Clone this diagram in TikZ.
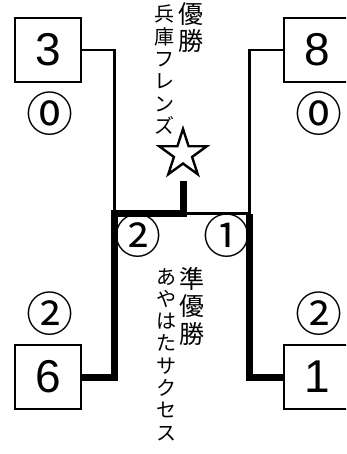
\documentclass[tikz,border=0pt]{standalone}
\usepackage{fontspec}
\setmainfont{Liberation Sans}
\newfontfamily\jpfont{Noto Sans CJK JP}
\usetikzlibrary{shapes.geometric}
\begin{document}
\begin{tikzpicture}[x=1pt,y=-1pt,
  box/.style={draw, line width=2.6pt, minimum width=66pt, minimum height=64pt, inner sep=0pt, font=\fontsize{46}{50}\selectfont},
  thinline/.style={line width=2.7pt},
  thickline/.style={line width=7pt},
  score/.style={font=\jpfont\fontsize{47}{50}\selectfont, inner sep=0pt},
  smallcol/.style={font=\jpfont\fontsize{20}{22.3}\selectfont, align=center, inner sep=0pt, anchor=north},
  bigcol/.style={font=\jpfont\fontsize{25}{27.5}\selectfont, align=center, inner sep=0pt, anchor=north},
]
\path[use as bounding box] (0,0) rectangle (346,454);
\clip (0,0) rectangle (346,454);
% team boxes
\node[box] (b3) at (48,50) {3};
\node[box] (b8) at (317,50) {8};
\node[box] (b6) at (48,377) {6};
\node[box] (b1) at (317,377) {1};
% junctions
\coordinate (jl) at (114.5,213.5);
\coordinate (jm) at (183,213.5);
\coordinate (jr) at (249.5,213.5);
\coordinate (st) at (183,181);
% star
\node[star, star points=5, star point ratio=2.618, minimum size=50pt, draw, line width=2.4pt, inner sep=0pt] (star) at (183,154) {};
% thin connectors
\draw[thinline] (b3.east) -| (jl);
\draw[thinline] (b8.west) -| (jr);
\draw[thinline] (jm) -- (jr);
% thick connectors (winners)
\draw[thickline] (b6.east) -| (jl) -- (jm) -- (st);
\draw[thickline] (b1.west) -| (jr);
% scores
\node[score] (s3) at (49.5,114) {⓪};
\node[score] (s8) at (318.5,114) {⓪};
\node[score] (s6) at (49.5,314) {②};
\node[score] (s1) at (318.5,314) {②};
\node[score] (f6) at (138,236) {②};
\node[score] (f1) at (227,236) {①};
% labels
\node[bigcol] (win) at (191,2) {優\\勝};
\node[smallcol] (winname) at (164,5) {兵\\庫\\フ\\レ\\ン\\ズ};
\node[bigcol] (second) at (191.5,267) {準\\優\\勝};
\node[smallcol] (secondname) at (166,268) {あ\\や\\は\\た\\サ\\ク\\セ\\ス};
\end{tikzpicture}
\end{document}
